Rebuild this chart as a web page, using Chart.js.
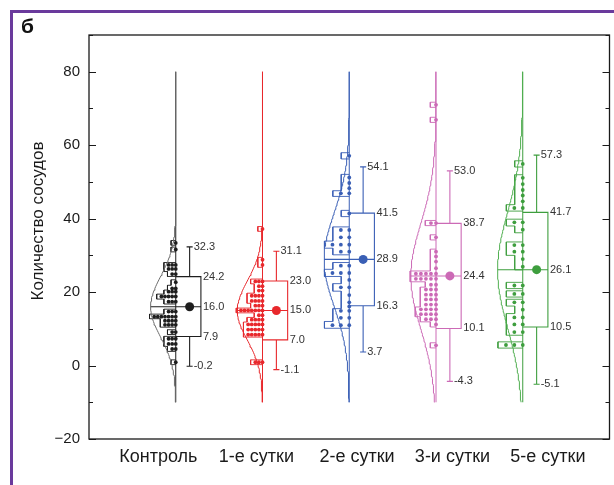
<!DOCTYPE html>
<html>
<head>
<meta charset="utf-8">
<script src="https://cdn.jsdelivr.net/npm/chart.js@4.4.1/dist/chart.umd.min.js"></script>
<style>
  html, body { margin: 0; padding: 0; background: #fff; }
  #wrap { position: relative; width: 614px; height: 485px; overflow: hidden; }
  #frame { position: absolute; left: 10px; top: 10px; width: 640px; height: 520px;
           border-left: 3px solid #6a3a9c; border-top: 3px solid #6a3a9c; box-sizing: border-box; }
  #tag { position: absolute; left: 21px; top: 14px; font: bold 21px "Liberation Sans", Arial, sans-serif; color: #111; }
  canvas { position: absolute; left: 0; top: 0; }
</style>
</head>
<body>
<div id="wrap">
  <canvas id="chart" width="614" height="485"></canvas>
  <div id="frame"></div>
  <div id="tag">б</div>
</div>
<script>
/*******************************************************
 * DATA
 *******************************************************/
const categories = ["Контроль", "1-е сутки", "2-е сутки", "3-и сутки", "5-е сутки"];
// where the category names sit on the x axis (they are shifted from the violins in the original)
const labelPos = [-0.2, 0.93, 2.09, 3.19, 4.29];

const means     = [16.0, 15.0, 28.9, 24.4, 26.1];
const boxLow    = [7.9, 7.0, 16.3, 10.1, 10.5];
const boxHigh   = [24.2, 23.0, 41.5, 38.7, 41.7];
const whiskLow  = [-0.2, -1.1, 3.7, -4.3, -5.1];
const whiskHigh = [32.3, 31.1, 54.1, 53.0, 57.3];

// dot rows: [value, number of stacked dots]
const dotsKontrol = [[33.4,1],[31.6,1],[27.4,3],[26.3,3],[24.9,2],[22.7,1],[21.0,2],[20.1,3],[18.8,5],[17.4,3],
                     [14.7,3],[13.3,7],[12.2,4],[11.1,4],[9.1,2],[7.3,3],[5.9,3],[4.5,2],[0.9,1]];
const dotsDay1 = [[37.2,1],[28.8,1],[27.4,1],[22.9,3],[21.6,2],[20.4,2],[19.0,4],[17.6,4],[16.3,3],[15.0,7],
                  [13.7,2],[12.5,4],[11.2,5],[9.8,5],[8.4,5],[0.9,3]];
const dotsDay2 = [[57.1,1],[51.2,1],[49.7,1],[48.3,1],[46.9,2],[41.4,1],[36.9,2],[34.9,2],[32.9,3],[31.0,2],
                  [27.2,2],[25.2,3],[23.3,1],[21.3,2],[19.2,1],[17.2,1],[16.1,1],[14.9,2],[13.0,2],[11.0,3]];
const dotsDay3 = [[71.0,1],[66.9,1],[38.8,2],[34.9,1],[31.0,1],[29.7,1],[28.3,1],[26.5,1],[25.0,5],[23.6,5],
                  [22.0,2],[20.7,3],[19.3,3],[18.0,3],[16.6,3],[15.3,4],[14.0,4],[12.6,3],[11.2,1],[5.5,1]];
const dotsDay5 = [[54.9,1],[51.1,1],[49.4,1],[47.8,1],[46.3,1],[44.7,1],[42.9,2],[39.0,2],[37.0,1],[32.8,2],
                  [31.0,2],[29.0,1],[26.9,1],[21.8,2],[19.5,2],[17.2,2],[15.2,1],[13.1,2],[11.2,2],[9.1,2],[5.6,3]];
const dotRows = [dotsKontrol, dotsDay1, dotsDay2, dotsDay3, dotsDay5];
const rowStep = [1.3, 1.3, 1.7, 1.4, 1.7];

const colors = ["#1e1e1e", "#e8282c", "#3a5fb5", "#cc6ab6", "#3e9e3e"];
const curveColors = ["#6a6a6a", "#e8282c", "#3a5fb5", "#cc6ab6", "#4fae4f"];

/*******************************************************
 * BUILD DATASETS
 *******************************************************/
const HALF_W = 0.29;    // widest violin / dot row, x units
const BOX_W = 0.29;
const WHISK_X = 0.16;
const CAP = 0.035;

const datasets = [];
const gap = i => ({ x: i, y: null });

categories.forEach((name, i) => {
  const c = colors[i];
  const sd = boxHigh[i] - means[i];
  const rows = dotRows[i];
  const maxN = Math.max(...rows.map(r => r[1]));
  const s = HALF_W / maxN;
  const h = rowStep[i] / 2;
  const rowW = n => (n - 0.3) * s + 0.025;

  // half violin (normal curve from mean / sd)
  const curve = [];
  for (let v = -10; v <= 80.001; v += 0.5) {
    curve.push({ x: i - HALF_W * Math.exp(-0.5 * Math.pow((v - means[i]) / sd, 2)), y: v });
  }
  datasets.push({ data: curve, showLine: true, borderColor: curveColors[i], borderWidth: 1, pointRadius: 0 });

  // centre line of the violin
  datasets.push({ data: [{ x: i, y: -10 }, { x: i, y: 80 }], showLine: true, borderColor: c, borderWidth: 1, pointRadius: 0 });

  // histogram: stepped outline round each run of neighbouring dot rows
  const hist = [];
  let run = [];
  const flush = () => {
    if (!run.length) return;
    hist.push({ x: i, y: run[0][0] + h });
    run.forEach(([v, n], j) => {
      const w = rowW(n);
      const top = j === 0 ? v + h : (run[j - 1][0] + v) / 2;
      const bot = j === run.length - 1 ? v - h : (v + run[j + 1][0]) / 2;
      hist.push({ x: i - w, y: top }, { x: i - w, y: bot });
    });
    hist.push({ x: i, y: run[run.length - 1][0] - h }, gap(i));
    run = [];
  };
  rows.forEach(r => {
    if (run.length && run[run.length - 1][0] - r[0] > rowStep[i] * 1.35) flush();
    run.push(r);
  });
  flush();
  datasets.push({ data: hist, showLine: true, spanGaps: false, borderColor: c, borderWidth: 0.9, pointRadius: 0 });

  // dots
  const pts = [];
  rows.forEach(([v, n]) => { for (let k = 0; k < n; k++) pts.push({ x: i - k * s, y: v }); });
  datasets.push({ data: pts, showLine: false, pointRadius: 1.9, pointBackgroundColor: c, pointBorderWidth: 0 });

  // box, whiskers, caps and mean line
  const b = [
    { x: i, y: boxLow[i] }, { x: i + BOX_W, y: boxLow[i] }, { x: i + BOX_W, y: boxHigh[i] }, { x: i, y: boxHigh[i] }, gap(i),
    { x: i + WHISK_X, y: boxHigh[i] }, { x: i + WHISK_X, y: whiskHigh[i] }, gap(i),
    { x: i + WHISK_X - CAP, y: whiskHigh[i] }, { x: i + WHISK_X + CAP, y: whiskHigh[i] }, gap(i),
    { x: i + WHISK_X, y: boxLow[i] }, { x: i + WHISK_X, y: whiskLow[i] }, gap(i),
    { x: i + WHISK_X - CAP, y: whiskLow[i] }, { x: i + WHISK_X + CAP, y: whiskLow[i] }, gap(i),
    { x: i - HALF_W, y: means[i] }, { x: i + BOX_W, y: means[i] }
  ];
  datasets.push({ data: b, showLine: true, spanGaps: false, borderColor: c, borderWidth: 1.1, pointRadius: 0 });

  // mean marker
  datasets.push({ data: [{ x: i + WHISK_X, y: means[i] }], showLine: false, pointRadius: 4.5,
                  pointBackgroundColor: c, pointBorderWidth: 0 });
});

/*******************************************************
 * FRAME, TICKS, VALUE LABELS
 *******************************************************/
const FONT = '"Liberation Sans", Arial, sans-serif';
const decor = {
  id: "decor",
  afterDatasetsDraw(chart) {
    const { ctx, chartArea: a, scales: { x, y } } = chart;
    ctx.save();
    ctx.strokeStyle = "#1a1a1a";
    ctx.lineWidth = 1.3;
    ctx.strokeRect(a.left, a.top, a.right - a.left, a.bottom - a.top);
    ctx.lineWidth = 1;
    for (let v = -20; v <= 90; v += 10) {
      const py = Math.round(y.getPixelForValue(v)) + 0.5;
      const len = v % 20 === 0 ? 7 : 4;
      ctx.beginPath();
      ctx.moveTo(a.left, py); ctx.lineTo(a.left + len, py);
      ctx.moveTo(a.right, py); ctx.lineTo(a.right - len, py);
      ctx.stroke();
    }

    ctx.font = "11px " + FONT;
    ctx.fillStyle = "#333";
    ctx.textBaseline = "middle";
    ctx.textAlign = "left";
    categories.forEach((name, i) => {
      const bx = x.getPixelForValue(i + BOX_W) + 2;
      const wx = x.getPixelForValue(i + WHISK_X + CAP) + 1;
      [boxLow[i], means[i], boxHigh[i]].forEach(v => ctx.fillText(v.toFixed(1), bx, y.getPixelForValue(v)));
      [whiskLow[i], whiskHigh[i]].forEach(v => ctx.fillText(v.toFixed(1), wx, y.getPixelForValue(v)));
    });

    ctx.translate(38, (a.top + a.bottom) / 2 - 16);
    ctx.rotate(-Math.PI / 2);
    ctx.font = "17px " + FONT;
    ctx.fillStyle = "#1a1a1a";
    ctx.textAlign = "center";
    ctx.fillText("Количество сосудов", 0, 0);
    ctx.restore();
  }
};

new Chart(document.getElementById("chart"), {
  type: "scatter",
  data: { datasets: datasets },
  plugins: [decor],
  options: {
    responsive: false,
    animation: false,
    events: [],
    layout: { padding: { top: 35, right: 2, left: 0, bottom: 0 } },
    plugins: { legend: { display: false }, tooltip: { enabled: false } },
    scales: {
      x: {
        type: "linear",
        min: -1,
        max: 5,
        afterFit: s => { s.height = 46; },
        afterBuildTicks: s => { s.ticks = labelPos.map(v => ({ value: v })); },
        grid: { display: false, drawTicks: false },
        border: { display: false },
        ticks: {
          autoSkip: false,
          maxRotation: 0,
          padding: 7,
          color: "#1a1a1a",
          font: { family: FONT, size: 18 },
          callback: (v, idx) => categories[idx]
        }
      },
      y: {
        min: -20,
        max: 90,
        afterFit: s => { s.width = 89; },
        grid: { display: false, drawTicks: false },
        border: { display: false },
        ticks: {
          stepSize: 10,
          padding: 9,
          color: "#1a1a1a",
          font: { family: FONT, size: 15 },
          callback: v => (v % 20 === 0 ? (v < 0 ? "\u2212" + Math.abs(v) : String(v)) : "")
        }
      }
    }
  }
});
</script>
</body>
</html>
